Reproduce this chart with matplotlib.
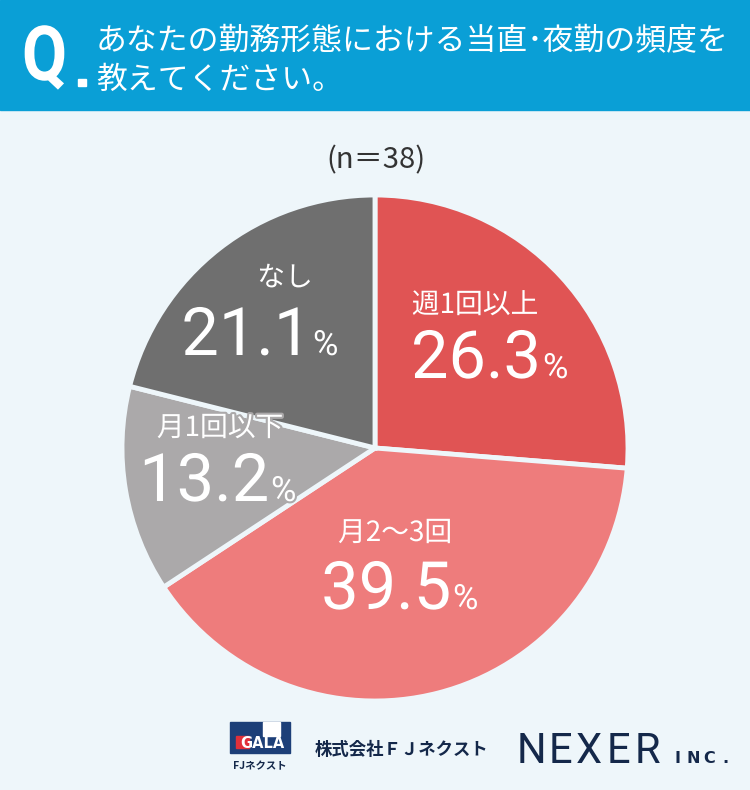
import matplotlib
matplotlib.use("Agg")
import matplotlib.pyplot as plt
import matplotlib.patheffects as pe
from matplotlib.patches import Rectangle, PathPatch
from matplotlib.textpath import TextPath
from matplotlib.font_manager import FontProperties
from matplotlib.transforms import Affine2D

plt.rcParams['font.family'] = ['Noto Sans CJK JP', 'DejaVu Sans']

# -- data
labels = ['週1回以上', '月2〜3回', '月1回以下', 'なし']
values = [26.3, 39.5, 13.2, 21.1]
colors = ['#e05454', '#ee7c7c', '#aba9aa', '#6f6f6f']
question = ['あなたの勤務形態における当直･夜勤の頻度を', '教えてください。']
n_text = '(n＝38)'

W, H = 750, 790
BG = '#eef6fa'
NAVY = '#14284a'

fig = plt.figure(figsize=(W / 100, H / 100), dpi=100, facecolor=BG)
ax = fig.add_axes([0, 0, 1, 1])
ax.set_facecolor(BG)

def py(y):
    # pixel row -> data y
    return H - y

# pie, clockwise from top
ax.pie(values, colors=colors, startangle=90, counterclock=False,
       center=(375, py(448)), radius=253,
       wedgeprops=dict(edgecolor=BG, linewidth=3.5))
ax.set_xlim(0, W)
ax.set_ylim(0, H)
ax.set_aspect('equal')
ax.axis('off')

# header band
ax.add_patch(Rectangle((0, py(110)), W, 110, color='#0a9fd6', zorder=5))
# narrow bold Q
qpath = TextPath((0, 0), 'Q', size=76,
                 prop=FontProperties(family='Roboto', weight='bold'))
qpath = Affine2D().scale(0.86, 1.0).translate(22, py(80)).transform_path(qpath)
ax.add_patch(PathPatch(qpath, color='white', lw=0, zorder=6))
ax.add_patch(Rectangle((78, py(86)), 8, 7, color='white', zorder=6))
ax.text(96, py(50), question[0], color='white', fontsize=22.2,
        ha='left', va='baseline', zorder=6)
ax.text(96, py(89), question[1], color='white', fontsize=22.2,
        ha='left', va='baseline', zorder=6)

ax.text(376, py(168), n_text, color='#333333', fontsize=21,
        ha='center', va='baseline')

# slice labels: (label x, label baseline, split x, number baseline)
pos = [(475, 313, 541, 378),
       (395, 541, 451, 609),
       (220, 436, 269, 501),
       (285, 286, 311, 355)]
for lab, v, c, (lx, ly, sx, ny) in zip(labels, values, colors, pos):
    st = [pe.withStroke(linewidth=3, foreground=c)]
    ax.text(lx, py(ly), lab, color='white', fontsize=20, ha='center',
            va='baseline', path_effects=st)
    ax.text(sx, py(ny), f'{v:.1f}', color='white', fontsize=48,
            family='Roboto', ha='right', va='baseline', path_effects=st)
    ax.text(sx + 2, py(ny), '%', color='white', fontsize=25,
            family='Roboto', ha='left', va='baseline', path_effects=st)

# footer logos
ax.add_patch(Rectangle((230, py(753)), 60, 31, color='#1d3f78'))
ax.add_patch(Rectangle((263, py(736)), 17, 14, color='white'))
ax.add_patch(Rectangle((236, py(748)), 13, 12, color='#e0303a'))
ax.text(262, py(748), 'GALA', color='white', fontsize=10.5, fontweight='bold',
        family='DejaVu Sans', ha='center', va='baseline')
ax.text(260, py(769), 'FJネクスト', color=NAVY, fontsize=7.5, fontweight='bold',
        ha='center', va='baseline')
ax.text(315, py(755), '株式会社ＦＪネクスト', color=NAVY, fontsize=12.5,
        fontweight='bold', ha='left', va='baseline')
for i, ch in enumerate('NEXER'):
    ax.text(531 + i * 29, py(763), ch, color=NAVY, fontsize=30,
            family='Roboto', ha='center', va='baseline')
for i, ch in enumerate('INC.'):
    ax.text(677 + i * 16, py(763), ch, color=NAVY, fontsize=11.5,
            family='DejaVu Sans', fontweight='bold', ha='center', va='baseline')

fig.savefig('out.png', dpi=100, facecolor=BG)
